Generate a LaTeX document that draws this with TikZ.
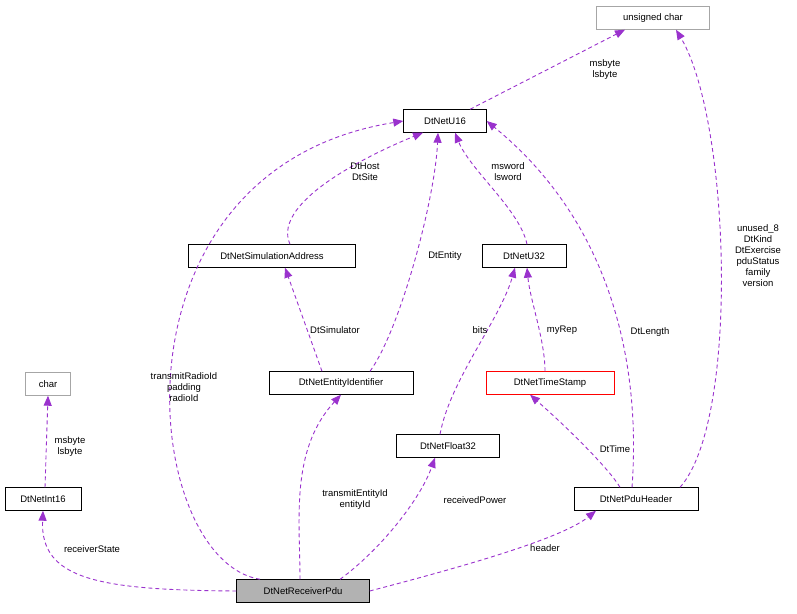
\documentclass[tikz,border=0pt]{standalone}
\usepackage{fontspec}
\setmainfont{Liberation Sans}
\usetikzlibrary{arrows.meta}
\definecolor{edge}{HTML}{9A32CD}
\begin{document}
\begin{tikzpicture}[x=1pt,y=-1pt,
  box/.style={draw=black,fill=white,minimum height=23pt,inner xsep=4pt,font=\fontsize{9.5}{11}\selectfont},
  gbox/.style={box,draw=gray!70},
  e/.style={draw=edge,line width=0.9pt,dash pattern=on 4pt off 3pt,-{Triangle[width=8pt,length=10pt,fill=edge]}},
  lab/.style={font=\fontsize{9.5}{11}\selectfont,align=center,inner sep=1pt}]
\useasboundingbox (0,0) rectangle (797,613);
\node[gbox,minimum width=113pt] (uc) at (653,18) {unsigned char};
\node[box,minimum width=83pt] (u16) at (445,121) {DtNetU16};
\node[box,minimum width=167pt] (sa) at (272,256) {DtNetSimulationAddress};
\node[box,minimum width=84pt] (u32) at (524,256) {DtNetU32};
\node[gbox,minimum width=45pt] (ch) at (48,384) {char};
\node[box,minimum width=144pt] (ei) at (341,383) {DtNetEntityIdentifier};
\node[box,draw=red,minimum width=128pt] (ts) at (550,383) {DtNetTimeStamp};
\node[box,minimum width=103pt] (f32) at (448,446) {DtNetFloat32};
\node[box,minimum width=76pt] (i16) at (43,499) {DtNetInt16};
\node[box,minimum width=124pt] (ph) at (636,499) {DtNetPduHeader};
\node[box,fill=gray!60,minimum width=133pt] (rp) at (303,591) {DtNetReceiverPdu};

\draw[e] ([xshift=25pt]u16.north) -- ([xshift=-28pt]uc.south);
\node[lab] at (605,70) {msbyte\\lsbyte};
\draw[e] ([xshift=44pt]ph.north) .. controls (740,420) and (730,120) .. ([xshift=23pt]uc.south);
\node[lab] at (758,256) {unused\_8\\DtKind\\DtExercise\\pduStatus\\family\\version};
\draw[e] ([xshift=18pt]sa.north) .. controls (270,200) and (380,150) .. ([xshift=-22pt]u16.south);
\node[lab] at (365,172) {DtHost\\DtSite};
\draw[e] ([xshift=29pt]ei.north) .. controls (400,330) and (435,200) .. ([xshift=-7pt]u16.south);
\node[lab] at (445,256) {DtEntity};
\draw[e] ([xshift=3pt]u32.north) .. controls (520,210) and (470,170) .. ([xshift=10pt]u16.south);
\node[lab] at (508,172) {msword\\lsword};
\draw[e] ([xshift=-4pt]ph.north) .. controls (640,380) and (620,230) .. (u16.east);
\node[lab] at (650,332) {DtLength};
\draw[e] ([xshift=-19pt]ei.north) -- ([xshift=13pt]sa.south);
\node[lab] at (335,330) {DtSimulator};
\draw[e] ([xshift=-8pt]f32.north) .. controls (450,380) and (500,320) .. ([xshift=-9pt]u32.south);
\node[lab] at (480,330) {bits};
\draw[e] ([xshift=-5pt]ts.north) .. controls (545,340) and (530,300) .. ([xshift=3pt]u32.south);
\node[lab] at (562,330) {myRep};
\draw[e] ([xshift=-16pt]ph.north) .. controls (610,470) and (570,430) .. ([xshift=-20pt]ts.south);
\node[lab] at (615,449) {DtTime};
\draw[e] ([xshift=-43pt]rp.north) .. controls (140,560) and (100,170) .. (u16.west);
\node[lab] at (184,387) {transmitRadioId\\padding\\radioId};
\draw[e] ([xshift=-3pt]rp.north) .. controls (300,520) and (290,450) .. (ei.south);
\node[lab] at (355,500) {transmitEntityId\\entityId};
\draw[e] ([xshift=37pt]rp.north) .. controls (380,550) and (420,500) .. ([xshift=-13pt]f32.south);
\node[lab] at (475,500) {receivedPower};
\draw[e] (rp.east) .. controls (450,570) and (560,540) .. ([xshift=-40pt]ph.south);
\node[lab] at (545,548) {header};
\draw[e] (rp.west) .. controls (100,590) and (40,580) .. (i16.south);
\node[lab] at (92,549) {receiverState};
\draw[e] ([xshift=2pt]i16.north) -- (ch.south);
\node[lab] at (70,447) {msbyte\\lsbyte};
\end{tikzpicture}
\end{document}
